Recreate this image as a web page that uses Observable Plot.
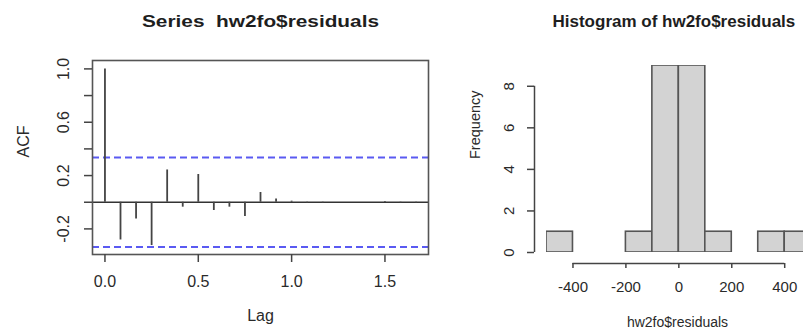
<!DOCTYPE html>
<html>
<head>
<meta charset="utf-8">
<script src="https://cdn.jsdelivr.net/npm/d3@7"></script>
<script src="https://cdn.jsdelivr.net/npm/@observablehq/plot@0.6"></script>
<style>
  html, body { margin: 0; padding: 0; background: #fff; overflow: hidden; }
  #wrap { position: relative; width: 803px; height: 331px; overflow: hidden; background: #fff; }
  #left, #right { position: absolute; top: 0; }
  #left { left: 0; }
  #right { left: 440px; }
  svg { font-family: "Liberation Sans", Arial, Helvetica, sans-serif; }
</style>
</head>
<body>
<div id="wrap"><div id="left"></div><div id="right"></div></div>
<script>
// ---- ACF data ----
const acfLags = [0, 0.0833, 0.1667, 0.25, 0.3333, 0.4167, 0.5, 0.5833, 0.6667, 0.75,
                 0.8333, 0.9167, 1.0, 1.0833, 1.1667, 1.25, 1.3333, 1.4167, 1.5, 1.5833, 1.6667];
const acfValues = [1.0, -0.283, -0.125, -0.325, 0.242, -0.037, 0.208, -0.062, -0.037, -0.107,
                   0.073, 0.025, 0.008, -0.006, -0.006, 0.0, 0.0, 0.0, 0.006, -0.006, -0.006];
const confLimit = 0.336;
const acfXTicks = [0, 0.5, 1.0, 1.5];
const acfYTicks = [-0.2, 0, 0.2, 0.4, 0.6, 0.8, 1.0];
const acfYLabeled = [-0.2, 0.2, 0.6, 1.0];

// ---- Histogram data ----
const binStarts = [-500, -400, -300, -200, -100, 0, 100, 200, 300, 400];
const binEnds   = [-400, -300, -200, -100, 0, 100, 200, 300, 400, 500];
const binCounts = [1, 0, 0, 1, 9, 9, 1, 0, 1, 1];
const histXTicks = [-400, -200, 0, 200, 400];
const histYTicks = [0, 2, 4, 6, 8];

const acfData = acfLags.map((lag, i) => ({lag, acf: acfValues[i]}));
const bins = binStarts.map((x1, i) => ({x1, x2: binEnds[i], n: binCounts[i]}));

const dark = "#444";
const txt = "#2a2a2a";

const left = Plot.plot({
  width: 440, height: 331,
  marginLeft: 92, marginRight: 12, marginTop: 60, marginBottom: 77,
  x: {domain: [-0.0667, 1.7333]},
  y: {domain: [-0.392, 1.063]},
  style: {fontFamily: '"Liberation Sans", Arial, sans-serif', color: txt, background: "#fff"},
  marks: [
    Plot.ruleY([0], {stroke: "#333", strokeWidth: 1.6}),
    Plot.ruleY([confLimit, -confLimit], {stroke: "#5a5af2", strokeWidth: 2, strokeDasharray: "7,4"}),
    Plot.ruleX(acfData, {x: "lag", y1: 0, y2: "acf", stroke: dark, strokeWidth: 1.8}),
    Plot.frame({stroke: "#555", strokeWidth: 1.6}),
    Plot.axisX({ticks: acfXTicks, tickFormat: d => d.toFixed(1), tickSize: 8, tickPadding: 13,
                fontSize: 16, stroke: dark, strokeWidth: 1.5, label: null}),
    Plot.axisY({ticks: acfYTicks, tickFormat: d => acfYLabeled.includes(d) ? d.toFixed(1) : "",
                tickSize: 8, tickRotate: -90, tickPadding: 16, fontSize: 16,
                stroke: dark, strokeWidth: 1.5, label: null}),
    Plot.text(["ACF"], {text: d => d, frameAnchor: "left", lineAnchor: "middle", dx: -69, rotate: -90, fontSize: 16, fill: txt}),
    Plot.text(["Lag"], {text: d => d, frameAnchor: "bottom", lineAnchor: "middle", dy: 61, fontSize: 16, fill: txt}),
    Plot.text(["Series  hw2fo$residuals"], {text: d => d, frameAnchor: "top", lineAnchor: "middle", dy: -39,
               fontSize: 16, fontWeight: "bold", fill: "#1e1e1e", className: "ttl-left"})
  ]
});
document.getElementById("left").appendChild(left);

const right = Plot.plot({
  width: 363, height: 331,
  marginLeft: 106, marginRight: 0, marginTop: 65, marginBottom: 79,
  x: {domain: [-500, 471]},
  y: {domain: [0, 9]},
  style: {fontFamily: '"Liberation Sans", Arial, sans-serif', color: txt, background: "#fff", overflow: "hidden"},
  marks: [
    Plot.rectY(bins, {x1: "x1", x2: "x2", y1: 0, y2: "n", fill: "#d3d3d3", stroke: "#555", strokeWidth: 1.6, clip: true}),
    Plot.ruleX([-500], {y1: 0, y2: 8, dx: -12, stroke: dark, strokeWidth: 1.5}),
    Plot.axisY({ticks: histYTicks, tickFormat: d => String(d), tickSize: 7, tickRotate: -90, tickPadding: 14, dx: -12,
                fontSize: 15, stroke: dark, strokeWidth: 1.5, label: null}),
    Plot.ruleY([0], {x1: -400, x2: 400, dy: 11, stroke: dark, strokeWidth: 1.5}),
    Plot.axisX({ticks: histXTicks, tickFormat: d => String(d), tickSize: 5, tickPadding: 13, dy: 11,
                fontSize: 15, stroke: dark, strokeWidth: 1.5, label: null}),
    Plot.text(["Frequency"], {text: d => d, frameAnchor: "left", lineAnchor: "middle", dx: -71, rotate: -90, fontSize: 14.5, fill: txt}),
    Plot.text(["hw2fo$residuals"], {text: d => d, frameAnchor: "bottom", lineAnchor: "middle", dx: 2.5, dy: 70, fontSize: 14, fill: txt}),
    Plot.text(["Histogram of hw2fo$residuals"], {text: d => d, frameAnchor: "top-left", lineAnchor: "middle", textAnchor: "start",
               dx: 6, dy: -44, fontSize: 17, fontWeight: "bold", fill: "#1e1e1e"})
  ]
});
document.getElementById("right").appendChild(right);

// stretch the left title to the reference's wide lettering
d3.select(left).selectAll(".ttl-left text").attr("textLength", 237).attr("lengthAdjust", "spacingAndGlyphs");
</script>
</body>
</html>
